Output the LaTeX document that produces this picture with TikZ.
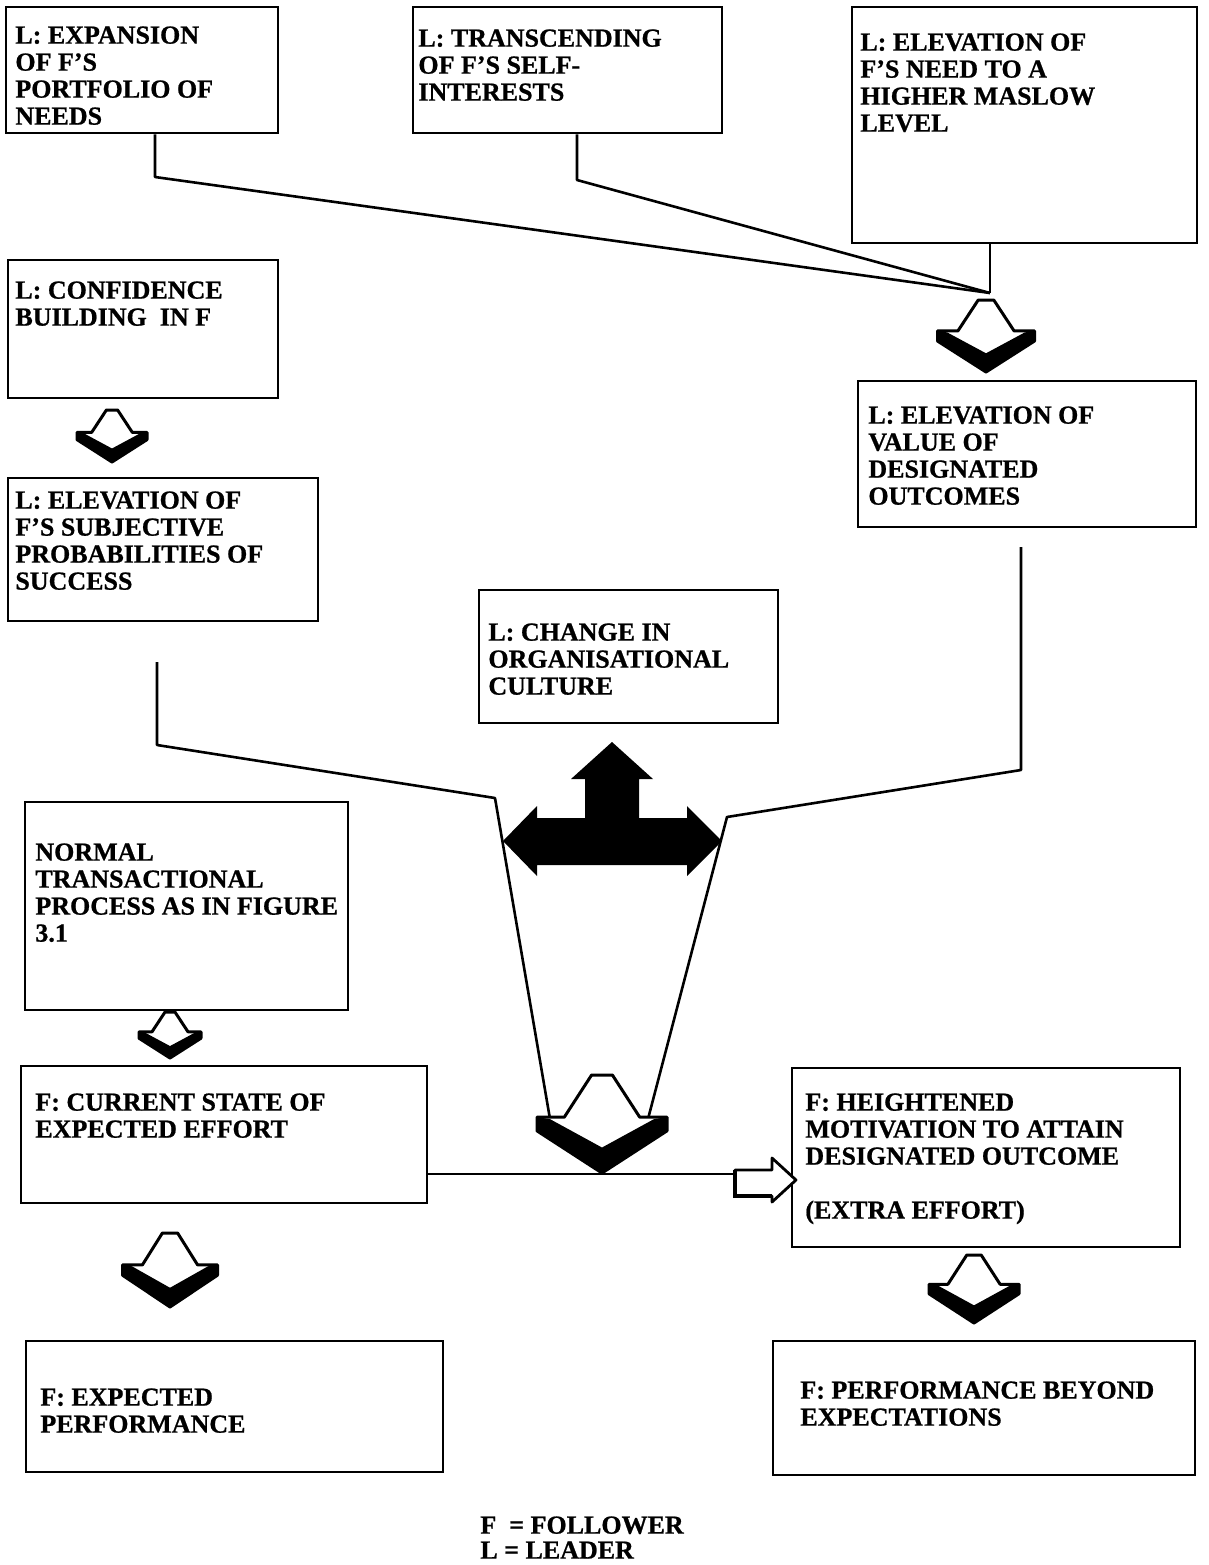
\documentclass[tikz,border=0pt]{standalone}
\usepackage{fontspec}
\setmainfont{Liberation Serif}[BoldFeatures={FakeBold=0.8}]
\usetikzlibrary{fit}
\newcommand{\dnarr}[4]{%
 \filldraw[fill=white, draw=black, line width=1.5pt, line join=round]
 ({#1-0.08*#3},{#2}) -- ({#1+0.08*#3},{#2}) -- ({#1+0.29*#3},{#2+0.43*#4}) -- ({#1+0.5*#3},{#2+0.43*#4}) -- ({#1+0.5*#3},{#2+0.57*#4}) -- ({#1},{#2+#4}) -- ({#1-0.5*#3},{#2+0.57*#4}) -- ({#1-0.5*#3},{#2+0.43*#4}) -- ({#1-0.29*#3},{#2+0.43*#4}) -- cycle;
 \fill ({#1-0.5*#3},{#2+0.43*#4}) -- ({#1-0.4*#3},{#2+0.45*#4}) -- ({#1},{#2+0.74*#4}) -- ({#1+0.4*#3},{#2+0.45*#4}) -- ({#1+0.5*#3},{#2+0.43*#4}) -- ({#1+0.5*#3},{#2+0.57*#4}) -- ({#1},{#2+#4}) -- ({#1-0.5*#3},{#2+0.57*#4}) -- cycle;
}
\begin{document}
\begin{tikzpicture}[x=0.5pt,y=-0.5pt,
  box/.style={draw, line width=1.3pt, inner sep=0pt},
  txt/.style={anchor=north west, inner sep=0pt, align=left, font=\fontsize{13}{13.5}\selectfont\bfseries},
  conn/.style={line width=1.3pt, line join=round}]
\useasboundingbox (0,0) rectangle (1209,1565);
% boxes
\node[box, fit={(6,7) (278,133)}] (A) {};
\node[box, fit={(413,7) (722,133)}] (B) {};
\node[box, fit={(852,7) (1197,243)}] (C) {};
\node[box, fit={(8,260) (278,398)}] (D) {};
\node[box, fit={(8,478) (318,621)}] (E) {};
\node[box, fit={(858,381) (1196,527)}] (F) {};
\node[box, fit={(479,590) (778,723)}] (G) {};
\node[box, fit={(25,802) (348,1010)}] (H) {};
\node[box, fit={(21,1066) (427,1203)}] (I) {};
\node[box, fit={(792,1068) (1180,1247)}] (J) {};
\node[box, fit={(26,1341) (443,1472)}] (K) {};
\node[box, fit={(773,1341) (1195,1475)}] (L) {};
% texts
\node[txt] (tA) at (15,26) {L: EXPANSION\\OF F’S\\PORTFOLIO OF\\NEEDS};
\node[txt] (tB) at (418,29) {L: TRANSCENDING\\OF F’S SELF-\\INTERESTS};
\node[txt] (tC) at (860,33) {L: ELEVATION OF\\F’S NEED TO A\\HIGHER MASLOW\\LEVEL};
\node[txt] (tD) at (15,281) {L: CONFIDENCE\\BUILDING~~IN F};
\node[txt] (tE) at (15,491) {L: ELEVATION OF\\F’S SUBJECTIVE\\PROBABILITIES OF\\SUCCESS};
\node[txt] (tF) at (868,406) {L: ELEVATION OF\\VALUE OF\\DESIGNATED\\OUTCOMES};
\node[txt] (tG) at (488,623) {L: CHANGE IN\\ORGANISATIONAL\\CULTURE};
\node[txt] (tH) at (35,843) {NORMAL\\TRANSACTIONAL\\PROCESS AS IN FIGURE\\3.1};
\node[txt] (tI) at (35,1093) {F: CURRENT STATE OF\\EXPECTED EFFORT};
\node[txt] (tJ) at (805,1093) {F: HEIGHTENED\\MOTIVATION TO ATTAIN\\DESIGNATED OUTCOME\\[13.5pt](EXTRA EFFORT)};
\node[txt] (tK) at (40,1388) {F: EXPECTED\\PERFORMANCE};
\node[txt] (tL) at (800,1381) {F: PERFORMANCE BEYOND\\EXPECTATIONS};
\node[txt, font=\fontsize{13}{12.5}\selectfont\bfseries] (leg) at (480,1516) {F~~= FOLLOWER\\L = LEADER};
% connectors
\coordinate (conv) at (990,293);
\coordinate (a1) at (155,177);
\coordinate (b1) at (577,180);
\draw[conn] (A.south -| a1) -- (a1) -- (conv);
\draw[conn] (B.south -| b1) -- (b1) -- (conv);
\draw[conn] (C.south -| conv) -- (conv);
\coordinate (e0) at (157,662);
\coordinate (e1) at (157,745);
\coordinate (e2) at (495,798);
\coordinate (e3) at (550,1119);
\draw[conn] (e0) -- (e1) -- (e2) -- (e3);
\coordinate (f0) at (1021,547);
\coordinate (f1) at (1021,770);
\coordinate (f2) at (727,817);
\coordinate (f3) at (648,1119);
\draw[conn] (f0) -- (f1) -- (f2) -- (f3);
\coordinate (i1) at (735,1174);
\draw[conn] (I.east |- i1) -- (i1);
% block arrows
\dnarr{986}{300}{97}{72}
\dnarr{112}{410}{70}{52}
\dnarr{170}{1012}{62}{46}
\dnarr{602}{1075}{130}{98}
\dnarr{170}{1233}{95}{74}
\dnarr{974}{1255}{90}{68}
% T-shaped arrow
\fill (612,742) -- (653,779) -- (639,779) -- (639,818) -- (687,818) -- (687,806) -- (722,841) -- (687,876) -- (687,865) -- (537,865) -- (537,876) -- (503,841) -- (537,806) -- (537,818) -- (585,818) -- (585,779) -- (571,779) -- cycle;
% small right arrow
\filldraw[fill=white, draw=black, line width=1.4pt, line join=round] (735,1170) -- (772,1170) -- (772,1158) -- (796,1180) -- (772,1202) -- (772,1196) -- (735,1196) -- cycle;
\draw[line width=2.4pt] (772,1196) -- (735,1196) -- (735,1170);
\end{tikzpicture}
\end{document}
